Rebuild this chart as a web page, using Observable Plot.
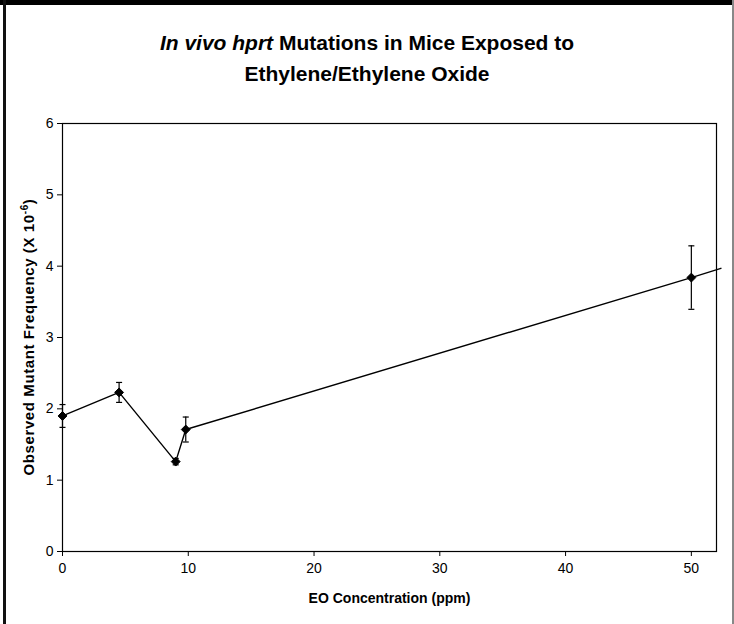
<!DOCTYPE html>
<html>
<head>
<meta charset="utf-8">
<script src="https://cdn.jsdelivr.net/npm/d3@7"></script>
<script src="https://cdn.jsdelivr.net/npm/@observablehq/plot@0.6"></script>
<style>
  html, body { margin: 0; padding: 0; background: #fff; }
  #wrap { position: relative; width: 734px; height: 624px; overflow: hidden; font-family: "Liberation Sans", Arial, sans-serif; }
  #title { position: absolute; left: 0; top: 0; width: 734px; height: 100px; text-align: center; }
  #title .l { position: absolute; left: 0; width: 734px; font-weight: bold; font-size: 21px; line-height: 24px; letter-spacing: 0px; white-space: nowrap; }
  #chart { position: absolute; left: 0; top: 100px; }
  .bTop { position: absolute; left: 0; top: 0; width: 734px; height: 5px; background: #000; }
  .bLeft { position: absolute; left: 3px; top: 0; width: 3px; height: 624px; background: #111; }
  .bRight { position: absolute; left: 732px; top: 0; width: 2px; height: 624px; background: #888; }
</style>
</head>
<body>
<div id="wrap">
  <div id="title">
    <div class="l" style="top:31px"><i>In vivo hprt</i> Mutations in Mice Exposed to</div>
    <div class="l" style="top:62px">Ethylene/Ethylene Oxide</div>
  </div>
  <div id="chart"></div>
  <div class="bTop"></div>
  <div class="bLeft"></div>
  <div class="bRight"></div>
</div>
<script>
// EO concentration (ppm)
const dose = [0, 4.5, 9, 9.8, 50];
// Observed mutant frequency (x 10^-6)
const freq = [1.90, 2.23, 1.26, 1.71, 3.84];
// error (half-width)
const err = [0.16, 0.14, 0.045, 0.175, 0.445];
// the connecting line continues past the right edge of the plot
const lineTailX = [52.35];
const lineTailY = [3.97];
const xTicks = [0, 10, 20, 30, 40, 50];
const yTicks = [0, 1, 2, 3, 4, 5, 6];

const pts = dose.map((d, i) => ({x: d, y: freq[i], lo: freq[i] - err[i], hi: freq[i] + err[i]}));
const linePts = pts.concat(lineTailX.map((d, i) => ({x: d, y: lineTailY[i]})));
const caps = pts.flatMap(p => [{x: p.x, y: p.lo}, {x: p.x, y: p.hi}]);

const capSymbol = {
  draw(ctx, size) {
    const w = Math.sqrt(size) / 2;
    ctx.moveTo(-w, 0);
    ctx.lineTo(w, 0);
  }
};

const chart = Plot.plot({
  width: 734,
  height: 524,
  marginLeft: 62,
  marginRight: 18,
  marginTop: 23,
  marginBottom: 73,
  style: {fontFamily: "'Liberation Sans', Arial, sans-serif", fontSize: "14px", color: "#000", background: "transparent"},
  x: {domain: [0, 52], label: null},
  y: {domain: [0, 6], label: null},
  marks: [
    Plot.frame({stroke: "#000", strokeWidth: 1.2}),
    Plot.line(linePts, {x: "x", y: "y", stroke: "#000", strokeWidth: 1.4, clip: false}),
    Plot.ruleX(pts, {x: "x", y1: "lo", y2: "hi", stroke: "#000", strokeWidth: 1.2}),
    Plot.dot(caps, {x: "x", y: "y", symbol: capSymbol, r: 3.4, stroke: "#000", strokeWidth: 1.2, fill: "none"}),
    Plot.dot(pts, {x: "x", y: "y", symbol: "diamond2", r: 4, fill: "#000", stroke: "#000", strokeWidth: 1}),
    Plot.axisX({ticks: xTicks, tickFormat: d => String(d), tickSize: 5, tickPadding: 7, fontSize: 14, label: null}),
    Plot.axisY({ticks: yTicks, tickFormat: d => String(d), tickSize: 5, tickPadding: 4, fontSize: 14, label: null}),
    Plot.text(["EO Concentration (ppm)"], {frameAnchor: "bottom", dy: 51, fontWeight: "bold", fontSize: 14, letterSpacing: "0.3px"}),
  ]
});
document.getElementById("chart").appendChild(chart);

// enforce tick label size
d3.select(chart).selectAll('g[aria-label="x-axis tick label"], g[aria-label="y-axis tick label"]')
  .attr("font-size", 14).style("font-size", "14px");

// y-axis title with superscript, as real text
const svg = d3.select(chart);
const t = svg.append("text")
  .attr("transform", `translate(34, ${(23 + 451) / 2}) rotate(-90)`)
  .attr("text-anchor", "middle")
  .attr("font-weight", "bold")
  .attr("font-size", 15)
  .attr("letter-spacing", "0.6px")
  .attr("fill", "#000");
t.append("tspan").text("Observed Mutant Frequency (X 10");
t.append("tspan").attr("font-size", 10).attr("dy", -6).text("-6");
t.append("tspan").attr("dy", 6).text(")");
</script>
</body>
</html>
